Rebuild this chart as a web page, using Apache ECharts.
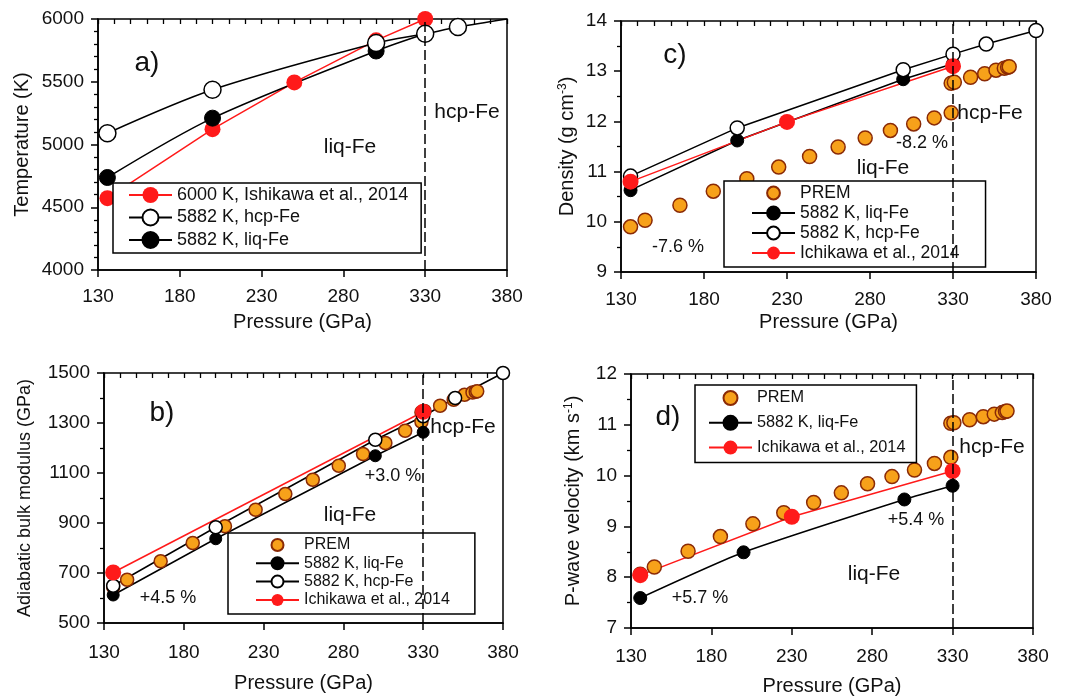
<!DOCTYPE html>
<html>
<head>
<meta charset="utf-8">
<title>Fe at core conditions</title>
<script src="https://cdn.jsdelivr.net/npm/echarts@6/dist/echarts.min.js"></script>
<style>
html,body{margin:0;padding:0;background:#fff;}
#chart{width:1069px;height:698px;}
</style>
</head>
<body>
<div id="chart"></div>
<script>
var FONT = 'Liberation Sans';

// pressure axis (GPa)
var pMin = 130, pMax = 380, pStep = 50;

// a) temperature (K)
var pA_hcp = [135.75, 200, 300, 330, 350, 380];
var tA_hcp = [5090, 5436, 5808, 5882, 5936, 6000];
var pA_liq = [135.75, 200, 300, 330];
var tA_liq = [4737, 5210, 5745, 5882];
var pA_ish = [135.75, 200, 250, 300, 330];
var tA_ish = [4572, 5122, 5495, 5830, 6000];

// b) adiabatic bulk modulus (GPa)
var pB_hcp = [135.75, 200, 300, 330, 350, 380];
var kB_hcp = [649, 883, 1233, 1327, 1400, 1500];
var pB_liq = [135.75, 200, 300, 330];
var kB_liq = [612, 837, 1169, 1263];
var pB_ich = [135.75, 330];
var kB_ich = [702, 1345];

// c) density (g/cm3)
var pC_hcp = [135.75, 200, 300, 330, 350, 380];
var dC_hcp = [10.91, 11.87, 13.03, 13.34, 13.54, 13.81];
var pC_liq = [135.75, 200, 300, 330];
var dC_liq = [10.63, 11.62, 12.84, 13.15];
var pC_ich = [135.75, 230, 330];
var dC_ich = [10.80, 11.99, 13.10];

// d) P-wave velocity (km/s)
var pD_liq = [135.75, 200, 300, 330];
var vD_liq = [7.59, 8.49, 9.53, 9.80];
var pD_ich = [135.75, 230, 330];
var vD_ich = [8.04, 9.19, 10.09];

// PREM
var premP   = [135.75, 144.5, 165.5, 185.6, 205.8, 225.0, 243.6, 260.8, 277.1, 292.3, 306.3, 318.7, 328.9, 328.9, 330.8, 340.6, 349.1, 355.9, 360.9, 362.9, 363.85];
var premRho = [9.90, 10.03, 10.33, 10.61, 10.86, 11.09, 11.30, 11.49, 11.67, 11.82, 11.95, 12.07, 12.17, 12.76, 12.78, 12.88, 12.95, 13.02, 13.06, 13.08, 13.09];
var premK   = [644, 673, 747, 820, 887, 953, 1016, 1073, 1129, 1176, 1220, 1269, 1305, 1343, 1348, 1369, 1393, 1413, 1422, 1425, 1427];
var premVp  = [8.06, 8.20, 8.51, 8.80, 9.05, 9.27, 9.47, 9.66, 9.84, 9.98, 10.11, 10.24, 10.36, 11.03, 11.04, 11.10, 11.16, 11.21, 11.24, 11.26, 11.27];

var nLiq = '5882 K, liq-Fe', nHcp = '5882 K, hcp-Fe', nIch = 'Ichikawa et al., 2014', nPrem = 'PREM';
var nIshA = '6000 K, Ishikawa et al., 2014';

function pairs(xs, ys){
	var out = [];
	for(var i=0;i<xs.length;i++){ out.push([xs[i], ys[i]]); }
	return out;
}

var ORANGE = '#F7A11A', BROWN = '#8A2A06', RED = '#FF1A1A';

function xMain(g, gap, margin){
	return {
		gridIndex:g, type:'value', min:pMin, max:pMax, interval:pStep,
		name:'Pressure (GPa)', nameLocation:'middle', nameGap:gap,
		nameTextStyle:{fontSize:20, color:'#111', fontFamily:FONT},
		axisLine:{onZero:false, lineStyle:{color:'#000', width:1.5}},
		axisTick:{length:7, lineStyle:{color:'#000', width:1.5}},
		axisLabel:{fontSize:19, color:'#111', margin:margin, fontFamily:FONT},
		splitLine:{show:false}
	};
}
// minor x ticks pointing inwards
function xMinor(g){
	return {
		gridIndex:g, type:'value', min:pMin, max:pMax, interval:10,
		axisLine:{show:false},
		axisTick:{inside:true, length:5, lineStyle:{color:'#000', width:1.3}},
		axisLabel:{show:false}, splitLine:{show:false}
	};
}
function yMain(g, min, max, step, minorN, name, gap, nameSize){
	return {
		gridIndex:g, type:'value', min:min, max:max, interval:step,
		name:name, nameLocation:'middle', nameGap:gap,
		nameTextStyle:{fontSize:nameSize, color:'#111', fontFamily:FONT,
			rich:{sup:{fontSize:12, color:'#111', fontFamily:FONT, verticalAlign:'top'}}},
		axisLine:{onZero:false, lineStyle:{color:'#000', width:1.5}},
		axisTick:{length:7, lineStyle:{color:'#000', width:1.5}},
		minorTick:{show:true, splitNumber:minorN, length:4, lineStyle:{color:'#000', width:1.3}},
		axisLabel:{fontSize:19, color:'#111', margin:14, fontFamily:FONT,
			formatter:function(v){ return String(v); }},
		splitLine:{show:false}
	};
}

function lineS(name, g, data, kind, size, smooth){
	var s = {
		name:name, type:'line', xAxisIndex:g*2, yAxisIndex:g, data:data,
		symbol:'circle', symbolSize:size, smooth:smooth || false,
		lineStyle:{color:'#000', width:1.5},
		itemStyle:{color:'#000', borderColor:'#000', borderWidth:1},
		emphasis:{disabled:true}, z:2
	};
	if(kind == 'open'){
		s.itemStyle = {color:'#fff', borderColor:'#000', borderWidth:1.5};
	}else if(kind == 'red'){
		s.lineStyle = {color:RED, width:1.5};
		s.itemStyle = {color:RED, borderColor:RED, borderWidth:0};
	}else if(kind == 'prem'){
		s.lineStyle = {color:BROWN, width:1, opacity:0};
		s.itemStyle = {color:ORANGE, borderColor:BROWN, borderWidth:1.5};
	}
	return s;
}
function dash330(g){
	return {
		type:'line', xAxisIndex:g*2, yAxisIndex:g, data:[], silent:true,
		markLine:{silent:true, symbol:'none', label:{show:false},
			lineStyle:{color:'#000', width:1.5, type:[10,4]},
			data:[{xAxis:330}]}
	};
}

function legendBox(names, left, top, iw, ih, gap, pad, fs){
	return {
		data:names, orient:'vertical', left:left, top:top,
		itemWidth:iw, itemHeight:ih, itemGap:gap, padding:pad,
		backgroundColor:'#fff', borderColor:'#000', borderWidth:1.5, borderRadius:0,
		textStyle:{fontSize:fs, color:'#111', fontFamily:FONT},
		selectedMode:false, z:5
	};
}

function txt(x, y, s, size){
	return {type:'text', x:x, y:y, z:10, style:{text:s, font:size+'px '+FONT, fill:'#111',
		textAlign:'center', textVerticalAlign:'middle', align:'center', verticalAlign:'middle'}};
}

var hcpA = pairs(pA_hcp, tA_hcp);
hcpA[hcpA.length-1] = {value:hcpA[hcpA.length-1], symbol:'none'};

var chart = echarts.init(document.getElementById('chart'));
var option = {
	animation:false,
	backgroundColor:'#fff',
	grid:[
		{left:98, top:19, width:409, height:251, show:true, borderColor:'#000', borderWidth:1.5},
		{left:104, top:373, width:399, height:250, show:true, borderColor:'#000', borderWidth:1.5},
		{left:621, top:21, width:415, height:251, show:true, borderColor:'#000', borderWidth:1.5},
		{left:631, top:374, width:402, height:254, show:true, borderColor:'#000', borderWidth:1.5}
	],
	xAxis:[
		xMain(0, 42, 17), xMinor(0),
		xMain(1, 50, 20), xMinor(1),
		xMain(2, 40, 18), xMinor(2),
		xMain(3, 48, 19), xMinor(3)
	],
	yAxis:[
		yMain(0, 4000, 6000, 500, 5, 'Temperature (K)', 66, 20),
		yMain(1, 500, 1500, 200, 2, 'Adiabatic bulk modulus (GPa)', 70, 18),
		yMain(2, 9, 14, 1, 2, 'Density (g cm{sup|-3})', 44, 20),
		yMain(3, 7, 12, 1, 2, 'P-wave velocity (km s{sup|-1})', 48, 20)
	],
	legend:[
		legendBox([nIshA, nHcp, nLiq], 113, 183, 43, 20, 4.5, [3,13,4,15], 18),
		legendBox([nPrem, nLiq, nHcp, nIch], 228, 533, 43, 15, 2.3, [4,25,6,27], 16),
		legendBox([nPrem, nLiq, nHcp, nIch], 724, 181, 43, 16, 2, [3,26,5,27], 17.5),
		legendBox([nPrem, nLiq, nIch], 695, 385, 43, 17.5, 8.8, [5,11,7,13], 16.3)
	],
	series:[
		// a)
		dash330(0),
		lineS(nIshA, 0, pairs(pA_ish, tA_ish), 'red', 16, false),
		lineS(nLiq, 0, pairs(pA_liq, tA_liq), 'black', 16, 0.3),
		lineS(nHcp, 0, hcpA, 'open', 17, 0.3),
		// b)
		dash330(1),
		lineS(nPrem, 1, pairs(premP, premK), 'prem', 13),
		lineS(nLiq, 1, pairs(pB_liq, kB_liq), 'black', 12),
		lineS(nHcp, 1, pairs(pB_hcp, kB_hcp), 'open', 13),
		lineS(nIch, 1, pairs(pB_ich, kB_ich), 'red', 16),
		// c)
		dash330(2),
		lineS(nPrem, 2, pairs(premP, premRho), 'prem', 14),
		lineS(nLiq, 2, pairs(pC_liq, dC_liq), 'black', 13),
		lineS(nHcp, 2, pairs(pC_hcp, dC_hcp), 'open', 14),
		lineS(nIch, 2, pairs(pC_ich, dC_ich), 'red', 16),
		// d)
		dash330(3),
		lineS(nPrem, 3, pairs(premP, premVp), 'prem', 14),
		lineS(nLiq, 3, pairs(pD_liq, vD_liq), 'black', 13, 0.2),
		lineS(nIch, 3, pairs(pD_ich, vD_ich), 'red', 16)
	],
	graphic:{elements:[
		txt(147, 63, 'a)', 28), txt(467, 112, 'hcp-Fe', 21), txt(350, 147, 'liq-Fe', 21),
		txt(162, 413, 'b)', 28), txt(463, 427, 'hcp-Fe', 21), txt(393, 476, '+3.0 %', 18),
		txt(350, 515, 'liq-Fe', 21), txt(168, 598, '+4.5 %', 18),
		txt(675, 55, 'c)', 28), txt(990, 113, 'hcp-Fe', 21), txt(922, 143, '-8.2 %', 18),
		txt(883, 168, 'liq-Fe', 21), txt(678, 247, '-7.6 %', 18),
		txt(668, 417, 'd)', 28), txt(992, 447, 'hcp-Fe', 21), txt(916, 520, '+5.4 %', 18),
		txt(874, 574, 'liq-Fe', 21), txt(700, 598, '+5.7 %', 18)
	]}
};
chart.setOption(option);
</script>
</body>
</html>
